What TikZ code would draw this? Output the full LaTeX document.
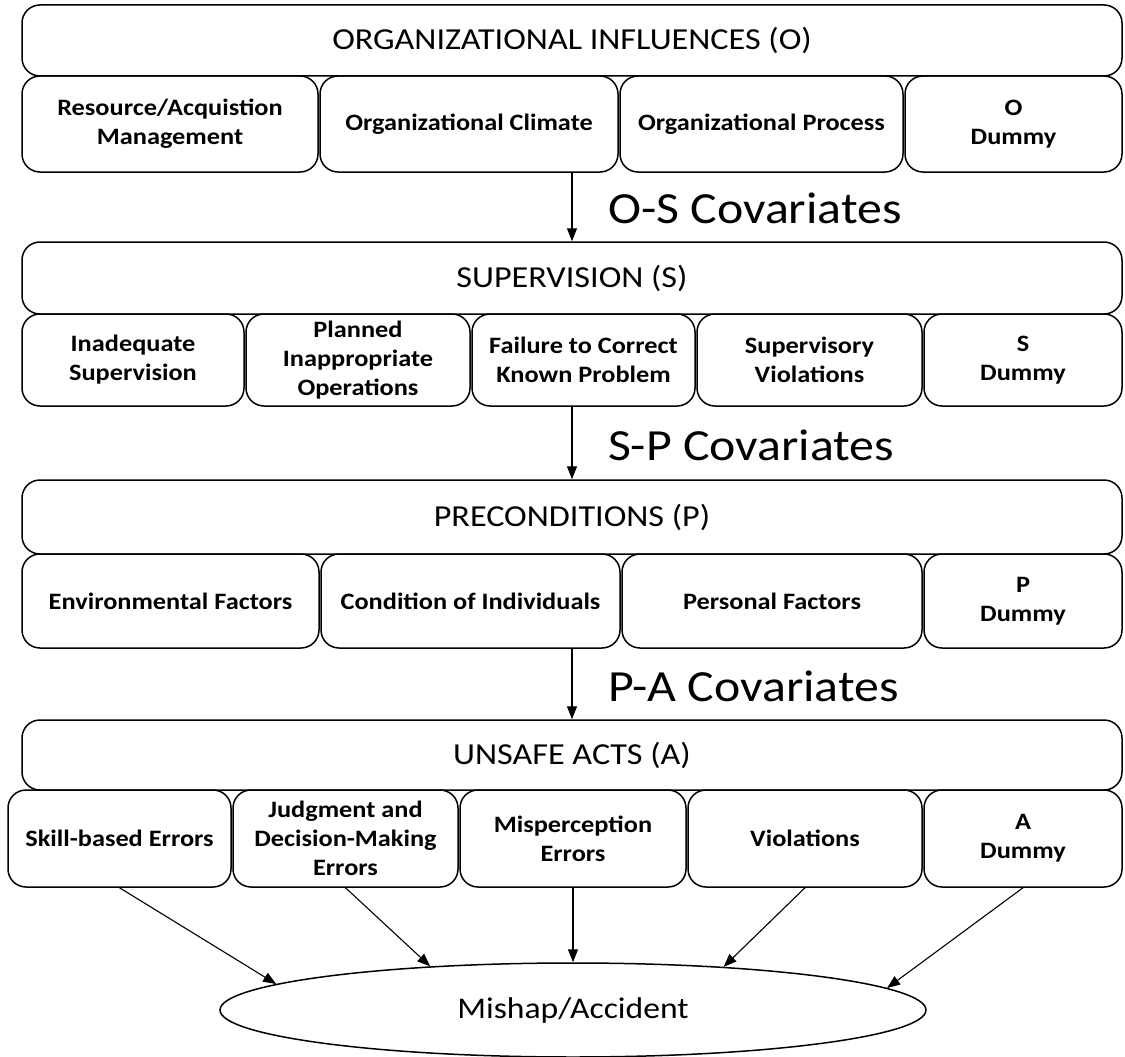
\documentclass[tikz,border=0pt]{standalone}
\usepackage{fontspec}
\setmainfont{Carlito}[FakeStretch=1.12]
\usepackage{tikz}
\usetikzlibrary{arrows.meta,shapes.geometric}

\begin{document}
\begin{tikzpicture}[x=1pt,y=-1pt,
    >={Triangle[length=13pt,width=10pt]},
    hdr/.style={draw, line width=1.5pt, rounded corners=18pt, inner sep=0pt, minimum width=1100pt, font=\fontsize{30.5}{34}\selectfont},
    sub/.style={draw, line width=1.5pt, rounded corners=18pt, inner sep=0pt, align=center, font=\bfseries\fontsize{23.5}{29}\selectfont},
    cov/.style={anchor=west, inner sep=0pt, font=\fontsize{44.5}{50}\selectfont},
    link/.style={->, line width=1.1pt}]
    \useasboundingbox (0,0) rectangle (1125,1057);

    \node[hdr, minimum height=71pt] (O) at (572,40.5) {ORGANIZATIONAL INFLUENCES (O)};
    \node[sub, minimum width=296pt, minimum height=96pt] (o1) at (170,124) {Resource/Acquistion\\Management};
    \node[sub, minimum width=298pt, minimum height=96pt] (o2) at (469,124) {Organizational Climate};
    \node[sub, minimum width=283pt, minimum height=96pt] (o3) at (761.5,124) {Organizational Process};
    \node[sub, minimum width=217pt, minimum height=96pt] (o4) at (1013.5,124) {O\\Dummy};

    \node[hdr, minimum height=72pt] (S) at (572,278) {SUPERVISION (S)};
    \node[sub, minimum width=222pt, minimum height=92pt] (s1) at (133,360) {Inadequate\\Supervision};
    \node[sub, minimum width=224pt, minimum height=92pt] (s2) at (358,360) {Planned\\Inappropriate\\Operations};
    \node[sub, minimum width=223pt, minimum height=92pt] (s3) at (583.5,360) {Failure to Correct\\Known Problem};
    \node[sub, minimum width=225pt, minimum height=92pt] (s4) at (809.5,360) {Supervisory\\Violations};
    \node[sub, minimum width=198pt, minimum height=92pt] (s5) at (1023,360) {S\\Dummy};

    \node[hdr, minimum height=74pt] (P) at (572,517) {PRECONDITIONS (P)};
    \node[sub, minimum width=297pt, minimum height=94pt] (p1) at (170.5,601) {Environmental Factors};
    \node[sub, minimum width=299pt, minimum height=94pt] (p2) at (470.5,601) {Condition of Individuals};
    \node[sub, minimum width=300pt, minimum height=94pt] (p3) at (772,601) {Personal Factors};
    \node[sub, minimum width=198pt, minimum height=94pt] (p4) at (1023,601) {P\\Dummy};

    \node[hdr, minimum height=70pt] (A) at (572,755) {UNSAFE ACTS (A)};
    \node[sub, minimum width=223pt, minimum height=97pt] (a1) at (119.5,838.5) {Skill-based Errors};
    \node[sub, minimum width=225pt, minimum height=97pt] (a2) at (345.5,838.5) {Judgment and\\Decision-Making\\Errors};
    \node[sub, minimum width=226pt, minimum height=97pt] (a3) at (573,838.5) {Misperception\\Errors};
    \node[sub, minimum width=234pt, minimum height=97pt] (a4) at (805,838.5) {Violations};
    \node[sub, minimum width=198pt, minimum height=97pt] (a5) at (1023,838.5) {A\\Dummy};

    \node[draw, ellipse, line width=1.5pt, inner sep=0pt, minimum width=706pt, minimum height=94pt, font=\fontsize{30}{34}\selectfont] (mishap) at (573,1010) {Mishap/Accident};

    \node[cov] (os) at (608,208) {O-S Covariates};
    \node[cov] (sp) at (608,445) {S-P Covariates};
    \node[cov] (pa) at (608,686) {P-A Covariates};

    \draw[link] (o2.south -| S.north) -- (S.north);
    \draw[link] (s3.south -| P.north) -- (P.north);
    \draw[link] (p2.south -| A.north) -- (A.north);

    \draw[link] (a1.south) -- (mishap.175.5);
    \draw[link] (a2.south) -- (mishap.163.5);
    \draw[link] (a3.south) -- (mishap.north);
    \draw[link] (a4.south) -- (mishap.16.5);
    \draw[link] (a5.south) -- (mishap.4.5);
\end{tikzpicture}
\end{document}
